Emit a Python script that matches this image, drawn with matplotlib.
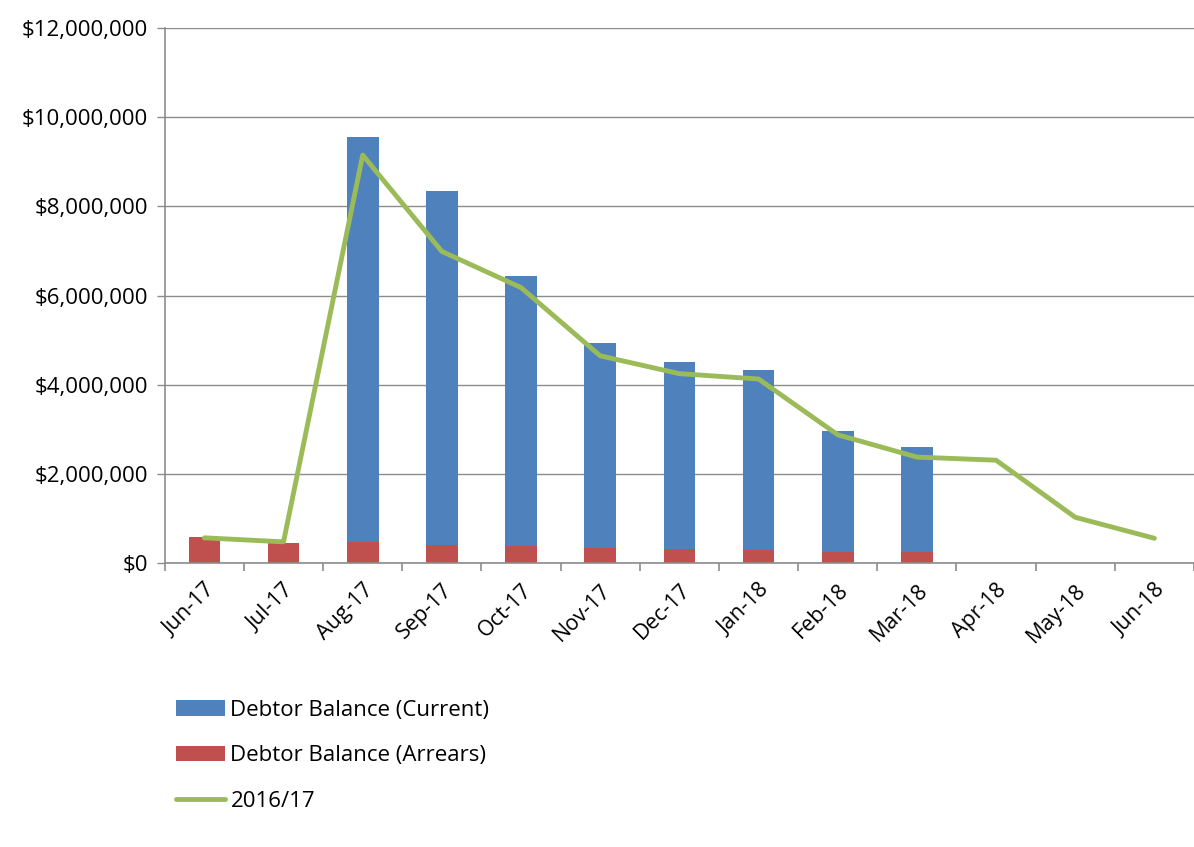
import matplotlib
matplotlib.use("Agg")
import matplotlib.pyplot as plt
import numpy as np
from matplotlib.ticker import FuncFormatter, MultipleLocator

months = ["Jun-17", "Jul-17", "Aug-17", "Sep-17", "Oct-17", "Nov-17", "Dec-17",
          "Jan-18", "Feb-18", "Mar-18", "Apr-18", "May-18", "Jun-18"]
arrears = [580000, 460000, 470000, 420000, 380000, 340000, 310000, 300000,
           260000, 250000, 0, 0, 0]
current = [0, -50000, 9090000, 7920000, 6050000, 4600000, 4210000, 4040000,
           2710000, 2360000, 0, 0, 0]
line_1617 = [570000, 480000, 9150000, 6990000, 6180000, 4650000, 4250000,
             4130000, 2880000, 2380000, 2310000, 1030000, 560000]

plt.rcParams['font.family'] = ['Open Sans', 'DejaVu Sans']

fig = plt.figure(figsize=(11.94, 8.47), dpi=100)
ax = fig.add_axes([0.138, 0.335, 0.862, 0.632])

x = np.arange(len(months))
w = 0.4
cur = np.array(current, dtype=float)
arr = np.array(arrears, dtype=float)
# Excel-style stacking: positive values stack up, negatives go below zero
cur_bottom = np.where(cur >= 0, arr, 0)
b_arr = ax.bar(x, arr, w, color="#C0504D", label="Debtor Balance (Arrears)", zorder=2)
b_cur = ax.bar(x, cur, w, bottom=cur_bottom, color="#4F81BD",
               label="Debtor Balance (Current)", zorder=2)
ln, = ax.plot(x, line_1617, color="#9BBB59", lw=3.5, label="2016/17", zorder=3,
              solid_capstyle='round')

ax.set_xlim(-0.5, len(months) - 0.5)
ax.set_ylim(0, 12000000)
ax.yaxis.set_major_locator(MultipleLocator(2000000))
ax.yaxis.set_major_formatter(FuncFormatter(lambda v, p: "${:,.0f}".format(v)))
ax.grid(axis='y', color="#8C8C8C", lw=1, zorder=0)
ax.set_axisbelow(True)

ax.set_xticks(x)
ax.set_xticklabels(months, rotation=45, ha='right', rotation_mode='anchor')
ax.set_xticks(np.arange(-0.5, len(months)), minor=True)
ax.tick_params(axis='x', which='major', length=0, pad=12, labelsize=15.5)
ax.tick_params(axis='x', which='minor', length=6, color="#8C8C8C", width=1.2)
ax.tick_params(axis='y', length=6, color="#8C8C8C", width=1, labelsize=16, pad=6)

for s in ['top', 'right']:
    ax.spines[s].set_visible(False)
for s in ['left', 'bottom']:
    ax.spines[s].set_color("#8C8C8C")
    ax.spines[s].set_linewidth(1.2)

leg = fig.legend([b_cur, b_arr, ln],
                 ["Debtor Balance (Current)", "Debtor Balance (Arrears)", "2016/17"],
                 loc='upper left', bbox_to_anchor=(176/1194, 1 - 700/847),
                 frameon=False, fontsize=16, labelspacing=1.1,
                 handlelength=2.2, handleheight=0.7, handletextpad=0.25,
                 borderaxespad=0, borderpad=0)

fig.savefig("out.png", dpi=100)
